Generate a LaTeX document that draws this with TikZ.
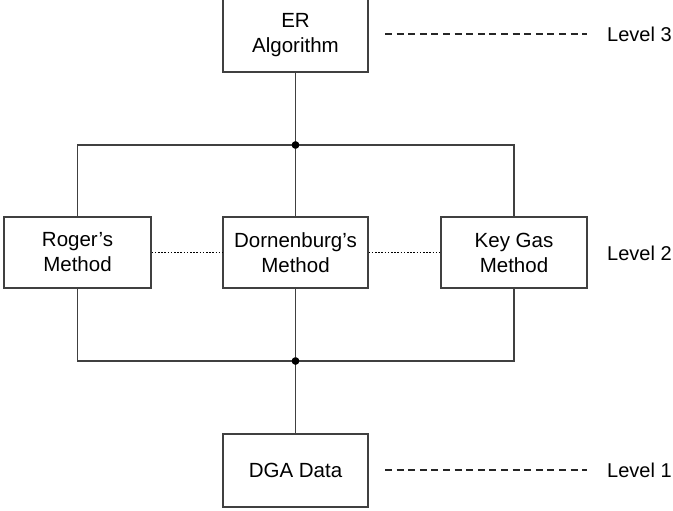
\documentclass[tikz,border=0pt]{standalone}
\usepackage{fontspec}
\setmainfont{Liberation Sans}
\begin{document}
\begin{tikzpicture}[x=1pt,y=-1pt,
  line/.style={draw=black!75, line width=1.3pt},
  box/.style={line, fill=white, align=center, inner sep=0pt, font=\fontsize{20.5}{25}\selectfont},
  lbl/.style={anchor=west, inner sep=0pt, font=\fontsize{20}{25}\selectfont},
  lvline/.style={draw=black!85, line width=1.8pt, dash pattern=on 7pt off 4.6pt},
  dotline/.style={draw=black, line width=1.7pt, dash pattern=on 1.6pt off 1.6pt},
  jdot/.style={circle, fill=black, inner sep=0pt, minimum size=7.5pt}]
\useasboundingbox (0,0) rectangle (673,511);
\node[box, minimum width=145pt, minimum height=74pt] (er) at (295.5,35) {ER\\Algorithm};
\node[box, minimum width=147pt, minimum height=71pt] (rog) at (77.5,252.5) {Roger's\\Method};
\node[box, minimum width=145pt, minimum height=71pt] (dorn) at (295.5,252.5) {Dornenburg's\\Method};
\node[box, minimum width=146pt, minimum height=71pt] (key) at (514,252.5) {Key Gas\\Method};
\node[box, minimum width=145pt, minimum height=73pt] (dga) at (295.5,470.5) {DGA Data};
\node[jdot] (j1) at (295.5,145) {};
\node[jdot] (j2) at (295.5,361) {};
\node[lbl] (l3) at (607,34) {Level 3};
\node[lbl] (l2) at (607,253) {Level 2};
\node[lbl] (l1) at (607,470) {Level 1};
\coordinate (d3) at (385,34);
\coordinate (d1) at (385,470);
\draw[line] (er) -- (j1);
\draw[line] (j1.center) -| (rog);
\draw[line] (j1.center) -| (key);
\draw[line] (j1) -- (dorn);
\draw[line] (dorn) -- (j2);
\draw[line] (j2.center) -| (rog);
\draw[line] (j2.center) -| (key);
\draw[line] (j2) -- (dga);
\node[jdot] at (j1) {};
\node[jdot] at (j2) {};
\draw[dotline] (rog.east) -- (dorn.west);
\draw[dotline] (dorn.east) -- (key.west);
\draw[lvline] (d3) -- ([xshift=-20pt]l3.west);
\draw[lvline] (d1) -- ([xshift=-20pt]l1.west);
\end{tikzpicture}
\end{document}
